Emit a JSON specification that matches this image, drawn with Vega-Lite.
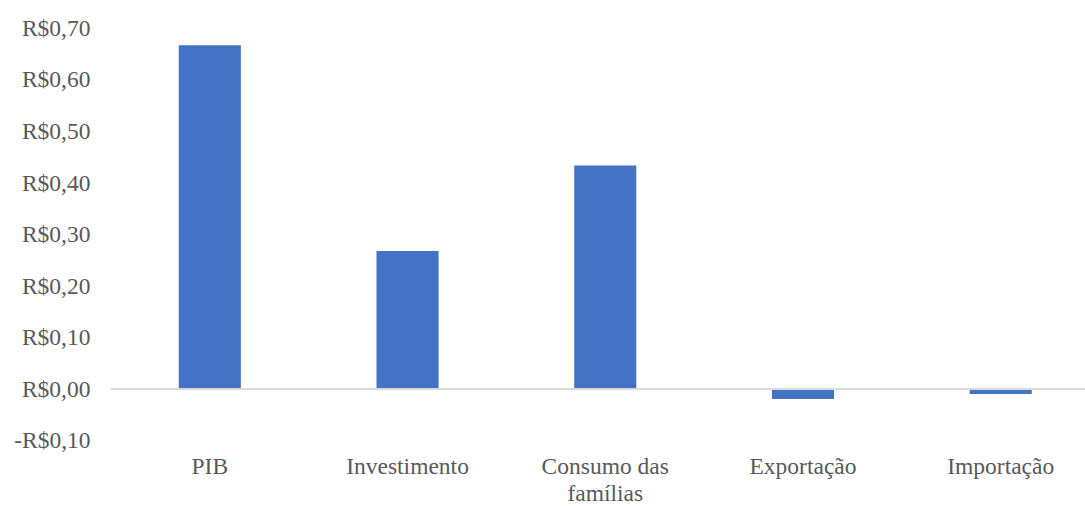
{
  "$schema": "https://vega.github.io/schema/vega-lite/v6.json",
  "autosize": {"type": "none"},
  "padding": {"left": 111, "top": 28.3, "right": 0, "bottom": 65.1},
  "width": 974,
  "height": 412.6,
  "background": "white",
  "config": {"view": {"stroke": null}, "font": "Liberation Serif"},
  "data": {"values": [
    {"categoria": "PIB", "valor": 0.667},
    {"categoria": "Investimento", "valor": 0.268},
    {"categoria": "Consumo das famílias", "valor": 0.434},
    {"categoria": "Exportação", "valor": -0.019},
    {"categoria": "Importação", "valor": -0.009}
  ]},
  "layer": [
    {
      "mark": {"type": "bar", "color": "#4472C4"},
      "encoding": {
        "x": {
          "field": "categoria", "type": "nominal", "sort": null,
          "scale": {"paddingInner": 0.686, "paddingOuter": 0.306, "align": 0.56},
          "axis": {
            "title": null, "domain": false, "ticks": false, "labelAngle": 0,
            "labelFont": "Liberation Serif", "labelFontSize": 23.5, "labelColor": "#595959",
            "labelPadding": 14, "labelLineHeight": 27,
            "labelExpr": "datum.label == 'Consumo das famílias' ? ['Consumo das', 'famílias'] : datum.label"
          }
        },
        "y": {
          "field": "valor", "type": "quantitative",
          "scale": {"domain": [-0.1, 0.7], "nice": false, "zero": false},
          "axis": {
            "title": null, "domain": false, "ticks": false, "grid": false,
            "values": [-0.1, 0, 0.1, 0.2, 0.3, 0.4, 0.5, 0.6, 0.7],
            "labelFont": "Liberation Serif", "labelFontSize": 23.5, "labelColor": "#595959",
            "labelPadding": 21,
            "labelExpr": "(datum.value < -0.0001 ? '-' : '') + 'R$' + replace(format(abs(datum.value), '.2f'), '.', ',')"
          }
        }
      }
    },
    {
      "mark": {"type": "rule", "color": "#d9d9d9", "strokeWidth": 1.5},
      "encoding": {"y": {"datum": 0, "type": "quantitative"}}
    }
  ]
}
